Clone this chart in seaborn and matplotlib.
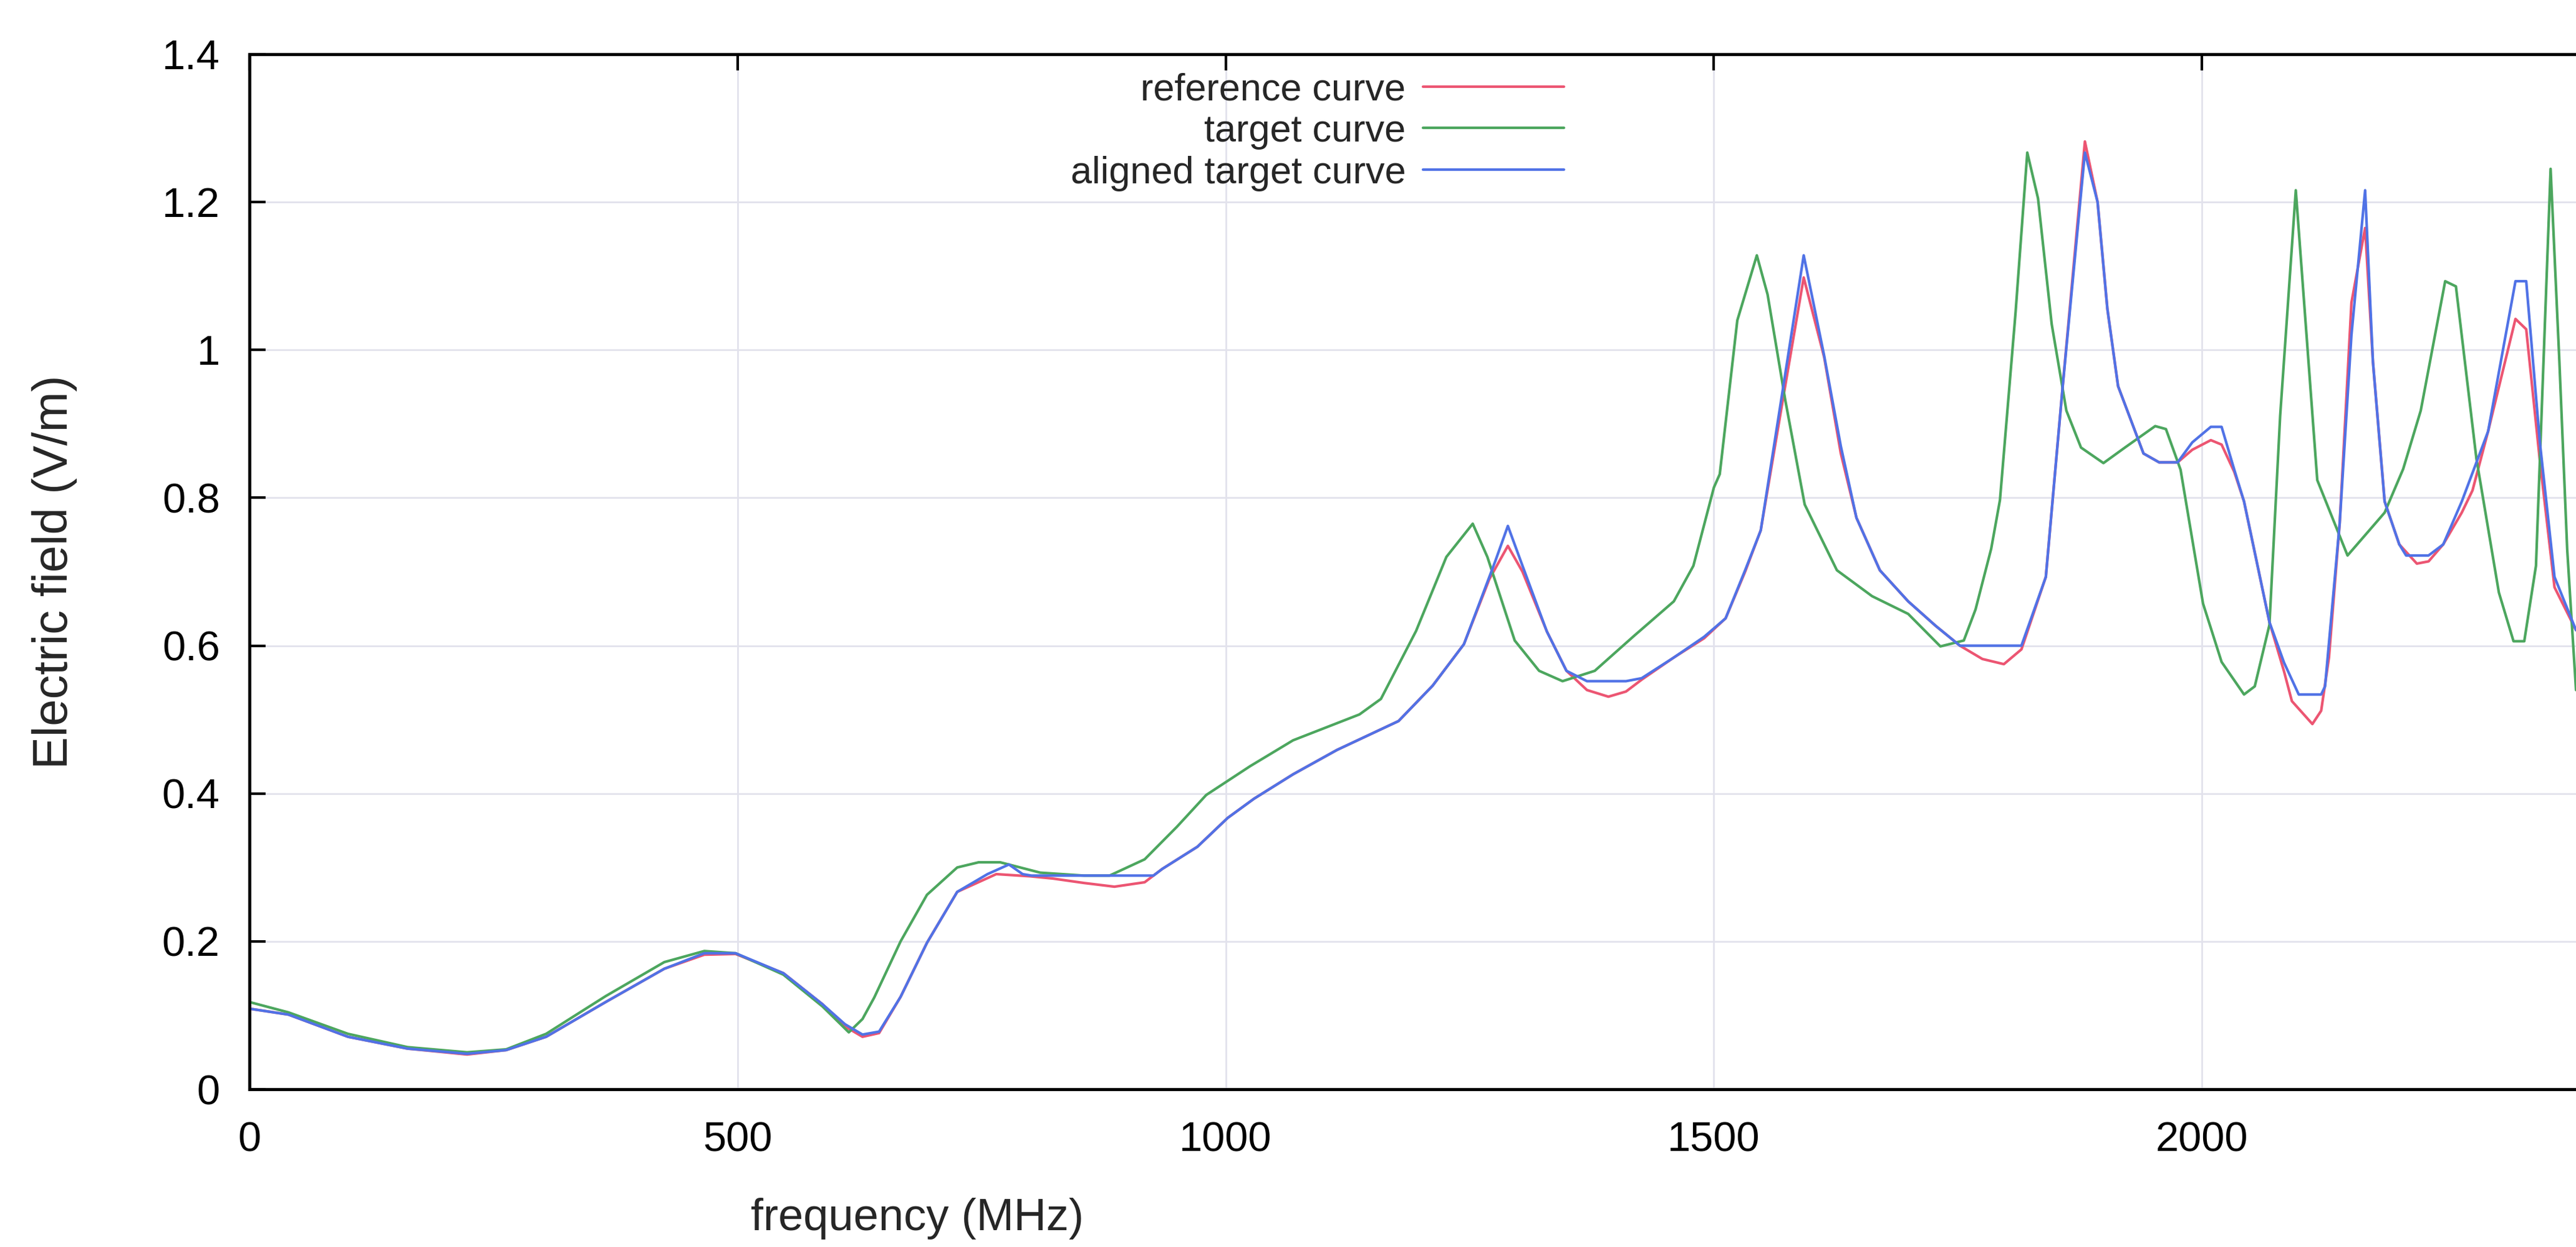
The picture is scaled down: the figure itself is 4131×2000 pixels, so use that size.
import numpy as np
import pandas as pd
import seaborn as sns
import matplotlib.pyplot as plt

# reference curve (red)
ref_freq = [0, 40, 101, 162, 223, 263, 304, 365, 425, 466, 498, 547, 587, 610, 628, 645,
            667, 694, 725, 765, 800, 823, 855, 886, 917, 935, 971, 1002, 1029, 1069, 1114,
            1177, 1212, 1244, 1270, 1289, 1304, 1329, 1349, 1370, 1392, 1410, 1426, 1459,
            1490, 1512, 1532, 1548, 1569, 1592, 1613, 1630, 1646, 1670, 1699, 1727, 1752,
            1775, 1797, 1815, 1840, 1857, 1880, 1893, 1903, 1914, 1940, 1956, 1975, 1990,
            2009, 2020, 2033, 2043, 2069, 2084, 2092, 2113, 2122, 2130, 2141, 2153, 2167,
            2175, 2187, 2202, 2220, 2232, 2247, 2266, 2277, 2293, 2321, 2332, 2346, 2361, 2383]
ref_field = [0.109, 0.101, 0.071, 0.055, 0.047, 0.053, 0.071, 0.118, 0.163, 0.182, 0.183,
             0.157, 0.115, 0.085, 0.071, 0.076, 0.125, 0.198, 0.267, 0.291, 0.288, 0.285,
             0.279, 0.274, 0.280, 0.298, 0.328, 0.367, 0.393, 0.426, 0.459, 0.498, 0.546,
             0.602, 0.690, 0.735, 0.700, 0.619, 0.566, 0.540, 0.531, 0.538, 0.554, 0.584,
             0.610, 0.637, 0.700, 0.756, 0.920, 1.098, 0.990, 0.860, 0.773, 0.702, 0.660,
             0.627, 0.600, 0.582, 0.575, 0.595, 0.693, 0.947, 1.282, 1.200, 1.056, 0.951,
             0.860, 0.848, 0.848, 0.865, 0.878, 0.872, 0.835, 0.795, 0.632, 0.565, 0.525,
             0.494, 0.512, 0.584, 0.766, 1.064, 1.165, 0.984, 0.795, 0.737, 0.711, 0.714,
             0.737, 0.780, 0.810, 0.890, 1.042, 1.028, 0.850, 0.679, 0.621]

# target curve (green)
tgt_freq = [0, 40, 101, 162, 223, 263, 304, 365, 425, 466, 498, 547, 587, 614, 628, 640,
            667, 694, 725, 747, 769, 810, 855, 881, 917, 950, 980, 1025, 1069, 1137, 1159,
            1195, 1226, 1253, 1268, 1296, 1321, 1345, 1378, 1418, 1459, 1479, 1500,
            1506, 1524, 1544, 1555, 1573, 1593, 1626, 1662, 1699, 1732, 1756, 1768,
            1784, 1793, 1809, 1821, 1832, 1846, 1861, 1876, 1899, 1921, 1952, 1963, 1978,
            2001, 2020, 2043, 2054, 2069, 2080, 2096, 2107, 2118, 2149, 2187, 2206, 2224,
            2249, 2260, 2281, 2304, 2319, 2330, 2342, 2357, 2366, 2374, 2383]
tgt_field = [0.118, 0.104, 0.075, 0.057, 0.050, 0.054, 0.075, 0.126, 0.172, 0.187, 0.184,
             0.155, 0.112, 0.077, 0.095, 0.124, 0.200, 0.263, 0.300, 0.307, 0.307, 0.293,
             0.289, 0.289, 0.311, 0.355, 0.398, 0.437, 0.472, 0.507, 0.528, 0.620,
             0.720, 0.765, 0.720, 0.607, 0.566, 0.552, 0.566, 0.613, 0.660, 0.708, 0.814,
             0.832, 1.040, 1.128, 1.075, 0.933, 0.791, 0.702, 0.667, 0.643, 0.599,
             0.607, 0.649, 0.731, 0.797, 1.051, 1.267, 1.205, 1.035, 0.918, 0.868, 0.847,
             0.868, 0.897, 0.893, 0.838, 0.657, 0.578, 0.534, 0.545, 0.628, 0.911, 1.216,
             1.020, 0.824, 0.722, 0.780, 0.839, 0.918, 1.093, 1.086, 0.853, 0.672, 0.606,
             0.606, 0.708, 1.245, 0.984, 0.730, 0.540]

# aligned target curve (blue)
aln_freq = [0, 40, 101, 162, 223, 263, 304, 365, 425, 466, 498, 547, 587, 610, 628, 645,
            667, 694, 725, 756, 778, 792, 801, 926, 935, 971, 1002, 1029, 1069, 1114, 1177,
            1212, 1244, 1276, 1289, 1304, 1329, 1349, 1370, 1410, 1426, 1459, 1490, 1512,
            1532, 1548, 1569, 1592, 1613, 1630, 1646, 1670, 1699, 1727, 1752, 1815, 1840,
            1857, 1880, 1893, 1903, 1914, 1940, 1956, 1975, 1990, 2009, 2020, 2033, 2043,
            2069, 2084, 2099, 2122, 2126, 2141, 2153, 2167, 2175, 2187, 2202, 2209, 2232,
            2247, 2266, 2293, 2321, 2332, 2346, 2361, 2383]
aln_field = [0.109, 0.101, 0.071, 0.055, 0.048, 0.053, 0.071, 0.118, 0.163, 0.184, 0.184,
             0.157, 0.115, 0.088, 0.074, 0.078, 0.125, 0.198, 0.267, 0.291, 0.304, 0.291,
             0.289, 0.289, 0.298, 0.328, 0.367, 0.393, 0.426, 0.459, 0.498, 0.546, 0.602,
             0.714, 0.762, 0.708, 0.619, 0.566, 0.552, 0.552, 0.556, 0.584, 0.612, 0.637,
             0.702, 0.756, 0.933, 1.128, 0.992, 0.870, 0.773, 0.702, 0.660, 0.627, 0.600,
             0.600, 0.693, 0.947, 1.267, 1.200, 1.056, 0.951, 0.860, 0.848, 0.848, 0.875,
             0.896, 0.896, 0.838, 0.795, 0.632, 0.577, 0.534, 0.534, 0.545, 0.766, 1.020,
             1.216, 0.984, 0.795, 0.737, 0.722, 0.722, 0.737, 0.795, 0.890, 1.093, 1.093,
             0.875, 0.693, 0.621]

x_ticks = [0, 500, 1000, 1500, 2000]
y_ticks = [0, 0.2, 0.4, 0.6, 0.8, 1.0, 1.2, 1.4]
y_tick_labels = ['0', '0.2', '0.4', '0.6', '0.8', '1', '1.2', '1.4']

sns.set_style('white')
plt.rcParams['font.family'] = ['Liberation Sans', 'DejaVu Sans']

fig = plt.figure(figsize=(41.31, 20), dpi=100)
ax = fig.add_axes([0.0968, 0.1265, 0.9032, 0.83])

lw = 3.0
sns.lineplot(x=ref_freq, y=ref_field, ax=ax, color='#ec5572', lw=lw,
             sort=False, estimator=None, label='reference curve')
sns.lineplot(x=tgt_freq, y=tgt_field, ax=ax, color='#4ca65e', lw=lw,
             sort=False, estimator=None, label='target curve')
sns.lineplot(x=aln_freq, y=aln_field, ax=ax, color='#5072e6', lw=lw,
             sort=False, estimator=None, label='aligned target curve')

ax.set_xlim(0, 2383)
ax.set_ylim(0, 1.4)
ax.set_xticks(x_ticks)
ax.set_yticks(y_ticks)
ax.set_yticklabels(y_tick_labels)

ax.grid(True, color='#e2e2ec', lw=2)
ax.set_axisbelow(True)

for side in ['left', 'bottom', 'top']:
    ax.spines[side].set_color('black')
    ax.spines[side].set_linewidth(3.5)
ax.spines['right'].set_visible(False)

ax.tick_params(axis='both', direction='in', length=19, width=3, labelsize=48, colors='black')
ax.tick_params(axis='x', top=True, pad=37)
ax.tick_params(axis='y', left=True, right=False, pad=34)

ax.set_xlabel('frequency (MHz)', fontsize=52)
ax.set_ylabel('Electric field (V/m)', fontsize=56)
ax.xaxis.set_label_coords(0.287, -0.105)
ax.yaxis.set_label_coords(-0.074, 0.5)

# gnuplot style key: text right aligned, sample line after it
leg = ax.legend(loc='upper right', bbox_to_anchor=(0.565, 0.9825), frameon=False,
                markerfirst=False, fontsize=44, handlelength=3.7, handletextpad=0.45,
                labelspacing=0.16, borderpad=0, borderaxespad=0)
for line in leg.get_lines():
    line.set_linewidth(lw)

fig.savefig('out.png', dpi=100)
